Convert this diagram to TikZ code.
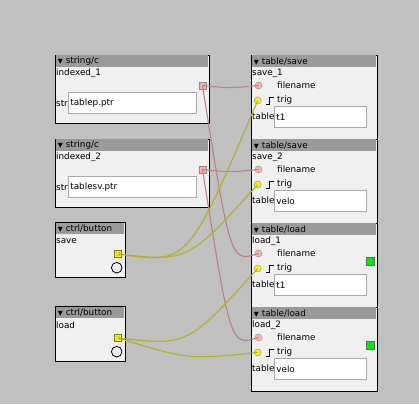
\documentclass[tikz,border=0pt]{standalone}
\usepackage{fontspec}
\setmainfont{DejaVu Sans}
\usetikzlibrary{positioning, calc}

\definecolor{patchbg}{RGB}{192,192,192}
\definecolor{objfill}{RGB}{240,240,240}
\definecolor{headfill}{RGB}{154,154,154}
\definecolor{fieldline}{RGB}{168,168,168}
\definecolor{inpink}{RGB}{255,176,176}
\definecolor{wirepink}{RGB}{178,134,134}
\definecolor{wireyellow}{RGB}{178,178,40}
\definecolor{ledgreen}{RGB}{0,235,0}

\newcommand{\tri}{{\fontsize{6.5}{6.5}\selectfont ▼}}

\begin{document}
\begin{tikzpicture}[
    x=1pt, y=-1pt,
    font=\fontsize{8.8}{10}\selectfont,
    obj/.style={draw=black, line width=1.4pt, fill=objfill, anchor=north west, inner sep=0pt},
    head/.style={fill=headfill, anchor=north west, inner sep=0pt, inner xsep=2pt, minimum height=11.5pt, align=left},
    lbl/.style={anchor=west, inner sep=0pt},
    field/.style={draw=fieldline, line width=0.8pt, fill=white, anchor=north west, inner sep=0pt, inner xsep=2pt, align=left, minimum height=21pt},
    outpin/.style={rectangle, minimum size=7pt, inner sep=0pt, line width=0.5pt,
        path picture={\foreach \dx/\dy in {-1.5/-1.5,1.5/-1.5,-1.5/1.5,1.5/1.5}
            \fill[black!45] ($(path picture bounding box.center)+(\dx,\dy)$) circle (0.45);}},
    pinkout/.style={outpin, fill=inpink, draw=black!45},
    yellowout/.style={outpin, fill=yellow, draw=wireyellow!70!black},
    pinkin/.style={circle, minimum size=7pt, inner sep=0pt, fill=inpink, draw=black!40, line width=0.5pt},
    yellowin/.style={circle, minimum size=7pt, inner sep=0pt, fill=yellow, draw=black!40, line width=0.5pt},
    led/.style={rectangle, minimum size=8pt, inner sep=0pt, anchor=north west, fill=ledgreen, draw=black!60, line width=0.6pt},
    btn/.style={circle, minimum size=10.6pt, inner sep=0pt, draw=black, line width=0.8pt, fill=objfill},
    stepsym/.style={line width=0.8pt},
    cable/.style={line width=1.1pt, to path={let \p1=(\tikztostart), \p2=(\tikztotarget),
        \n1={0.05*veclen(\x2-\x1,\y2-\y1)} in
        .. controls ({(\x1+\x2)/2},{min(\y1,\y2)-\n1}) and ({(\x1+\x2)/2},{min(\y1,\y2)-\n1}) .. (\tikztotarget)}},
    pinkcable/.style={cable, draw=wirepink},
    yellowcable/.style={cable, draw=wireyellow}
]

\fill[patchbg] (0,0) rectangle (419,404);
\useasboundingbox (0,0) rectangle (419,404);

% string/c objects
\node[obj, minimum width=153.5pt, minimum height=68.5pt] (idx1) at (55,54.5) {};
\node[head, text width=148pt] (idx1h) at ($(idx1.north west)+(0.7,0.7)$) {\tri\ string/c};
\node[lbl] (idx1n) at ($(idx1.north west)+(1,18.5)$) {indexed\_1};
\node[lbl] (idx1s) at ($(idx1.north west)+(1,48.5)$) {str};
\node[field, minimum width=128pt, text width=124pt] (idx1f) at ($(idx1.north west)+(13,37.5)$) {tablep.ptr};
\node[pinkout] (idx1out) at ($(idx1.north west)+(147.5,31)$) {};

\node[obj, minimum width=153.5pt, minimum height=68.5pt] (idx2) at (55,138.5) {};
\node[head, text width=148pt] (idx2h) at ($(idx2.north west)+(0.7,0.7)$) {\tri\ string/c};
\node[lbl] (idx2n) at ($(idx2.north west)+(1,18.5)$) {indexed\_2};
\node[lbl] (idx2s) at ($(idx2.north west)+(1,48.5)$) {str};
\node[field, minimum width=128pt, text width=124pt] (idx2f) at ($(idx2.north west)+(13,37.5)$) {tablesv.ptr};
\node[pinkout] (idx2out) at ($(idx2.north west)+(147.5,31)$) {};

% ctrl/button objects
\node[obj, minimum width=69.5pt, minimum height=55pt] (bsave) at (55,222) {};
\node[head, text width=64pt] (bsaveh) at ($(bsave.north west)+(0.7,0.7)$) {\tri\ ctrl/button};
\node[lbl] (bsaven) at ($(bsave.north west)+(1,19)$) {save};
\node[yellowout] (bsaveout) at ($(bsave.north west)+(63,32)$) {};
\node[btn] (bsavebtn) at ($(bsave.north west)+(61.7,45.7)$) {};

\node[obj, minimum width=69.5pt, minimum height=55pt] (bload) at (55,306) {};
\node[head, text width=64pt] (bloadh) at ($(bload.north west)+(0.7,0.7)$) {\tri\ ctrl/button};
\node[lbl] (bloadn) at ($(bload.north west)+(1,19)$) {load};
\node[yellowout] (bloadout) at ($(bload.north west)+(63,32)$) {};
\node[btn] (bloadbtn) at ($(bload.north west)+(61.7,45.7)$) {};

% table/save objects
\node[obj, minimum width=125.5pt, minimum height=84pt] (save1) at (251,54.5) {};
\node[head, text width=120pt] (save1h) at ($(save1.north west)+(0.7,0.7)$) {\tri\ table/save};
\node[lbl] (save1n) at ($(save1.north west)+(1,19)$) {save\_1};
\node[pinkin] (save1fn) at ($(save1.north west)+(7.5,31)$) {};
\node[lbl] (save1fnl) at ($(save1.north west)+(26,31)$) {filename};
\node[yellowin] (save1tr) at ($(save1.north west)+(6.7,46)$) {};
\node[lbl] (save1trl) at ($(save1.north west)+(26,46)$) {trig};
\draw[stepsym] ($(save1.north west)+(15,50)$) -- ++(3,0) -- ++(0,-7) -- ++(5,0);
\node[lbl] (save1tl) at ($(save1.north west)+(1,62)$) {table};
\node[field, minimum width=92pt, text width=88pt] (save1f) at ($(save1.north west)+(23,51.5)$) {t1};

\node[obj, minimum width=125.5pt, minimum height=84pt] (save2) at (251,138.5) {};
\node[head, text width=120pt] (save2h) at ($(save2.north west)+(0.7,0.7)$) {\tri\ table/save};
\node[lbl] (save2n) at ($(save2.north west)+(1,19)$) {save\_2};
\node[pinkin] (save2fn) at ($(save2.north west)+(7.5,31)$) {};
\node[lbl] (save2fnl) at ($(save2.north west)+(26,31)$) {filename};
\node[yellowin] (save2tr) at ($(save2.north west)+(6.7,46)$) {};
\node[lbl] (save2trl) at ($(save2.north west)+(26,46)$) {trig};
\draw[stepsym] ($(save2.north west)+(15,50)$) -- ++(3,0) -- ++(0,-7) -- ++(5,0);
\node[lbl] (save2tl) at ($(save2.north west)+(1,62)$) {table};
\node[field, minimum width=92pt, text width=88pt] (save2f) at ($(save2.north west)+(23,51.5)$) {velo};

% table/load objects
\node[obj, minimum width=125.5pt, minimum height=84pt] (load1) at (251,222.5) {};
\node[head, text width=120pt] (load1h) at ($(load1.north west)+(0.7,0.7)$) {\tri\ table/load};
\node[lbl] (load1n) at ($(load1.north west)+(1,19)$) {load\_1};
\node[pinkin] (load1fn) at ($(load1.north west)+(7.5,31)$) {};
\node[lbl] (load1fnl) at ($(load1.north west)+(26,31)$) {filename};
\node[yellowin] (load1tr) at ($(load1.north west)+(6.7,46)$) {};
\node[lbl] (load1trl) at ($(load1.north west)+(26,46)$) {trig};
\draw[stepsym] ($(load1.north west)+(15,50)$) -- ++(3,0) -- ++(0,-7) -- ++(5,0);
\node[lbl] (load1tl) at ($(load1.north west)+(1,62)$) {table};
\node[field, minimum width=92pt, text width=88pt] (load1f) at ($(load1.north west)+(23,51.5)$) {t1};
\node[led] (load1led) at ($(load1.north west)+(115,34.5)$) {};

\node[obj, minimum width=125.5pt, minimum height=84pt] (load2) at (251,306.5) {};
\node[head, text width=120pt] (load2h) at ($(load2.north west)+(0.7,0.7)$) {\tri\ table/load};
\node[lbl] (load2n) at ($(load2.north west)+(1,19)$) {load\_2};
\node[pinkin] (load2fn) at ($(load2.north west)+(7.5,31)$) {};
\node[lbl] (load2fnl) at ($(load2.north west)+(26,31)$) {filename};
\node[yellowin] (load2tr) at ($(load2.north west)+(6.7,46)$) {};
\node[lbl] (load2trl) at ($(load2.north west)+(26,46)$) {trig};
\draw[stepsym] ($(load2.north west)+(15,50)$) -- ++(3,0) -- ++(0,-7) -- ++(5,0);
\node[lbl] (load2tl) at ($(load2.north west)+(1,62)$) {table};
\node[field, minimum width=92pt, text width=88pt] (load2f) at ($(load2.north west)+(23,51.5)$) {velo};
\node[led] (load2led) at ($(load2.north west)+(115,34.5)$) {};

% Connections
\draw[pinkcable] (idx1out.center) to (save1fn.center);
\draw[pinkcable] (idx1out.center) to (load1fn.center);
\draw[pinkcable] (idx2out.center) to (save2fn.center);
\draw[pinkcable] (idx2out.center) to (load2fn.center);
\draw[yellowcable] (bsaveout.center) to (save1tr.center);
\draw[yellowcable] (bsaveout.center) to (save2tr.center);
\draw[yellowcable] (bloadout.center) to (load1tr.center);
\draw[yellowcable] (bloadout.center) to (load2tr.center);

\end{tikzpicture}
\end{document}
